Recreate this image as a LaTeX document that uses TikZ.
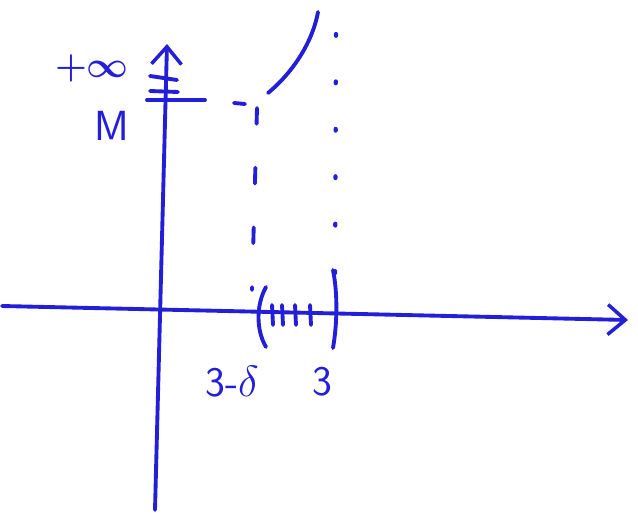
\documentclass[tikz,border=0pt]{standalone}
\usepackage{tikz}
\usepackage{bm}
\usetikzlibrary{arrows.meta}
\definecolor{pen}{RGB}{35,30,215}

\begin{document}
\begin{tikzpicture}[
  x=0.02cm, y=-0.02cm,
  ink/.style={pen, line width=2.2pt, line cap=round, line join=round},
  axis/.style={ink, -{Straight Barb[length=3.5mm,width=6mm,line width=2pt]}},
  guide/.style={ink, dash pattern=on 9pt off 25pt},
  dotline/.style={ink, line width=2.4pt, dash pattern=on 1pt off 26pt},
  lbl/.style={pen, font=\sffamily\fontsize{24}{26}\selectfont, inner sep=0pt}
]
\useasboundingbox (0,0) rectangle (638,513);
% axes
\coordinate (xl) at (2,306);
\coordinate (xr) at (628,320);
\coordinate (yb) at (155,510);
\coordinate (yt) at (167,44);
\draw[axis] (xl) -- (xr);
\draw[axis] (yb) -- (yt);
% hatching on the y axis, above M
\draw[ink] (150,76) -- (177,80);
\draw[ink] (150,91) -- (178,92);
\draw[ink] (147,100) -- (205,100);
% labels
\node[lbl, font=\fontsize{22}{24}\selectfont] (inf) at (92,68) {$\bm{+\infty}$};
\node[lbl] (M) at (112,126) {M};
\node[lbl] (a) at (232,382) {3-$\delta$};
\node[lbl] (b) at (322,382) {3};
% guide lines
\coordinate (gl) at (257,108);
\coordinate (gr) at (336,34);
\draw[ink] (234,103) -- (245,104);
\draw[guide] (gl) -- (252,290);
\draw[dotline] (gr) -- (335,300);
% curve
\coordinate (cs) at (268,93);
\coordinate (ce) at (318,12);
\draw[ink] (cs) .. controls (290,75) and (312,45) .. (ce);
% interval
\draw[ink] (266,287) .. controls (256,305) and (256,330) .. (266,347);
\draw[ink] (333,270) .. controls (338,295) and (337,325) .. (333,348);
\foreach \t in {272,282,295,310} \draw[ink] (\t,305) -- (\t+1,325);
\end{tikzpicture}
\end{document}
